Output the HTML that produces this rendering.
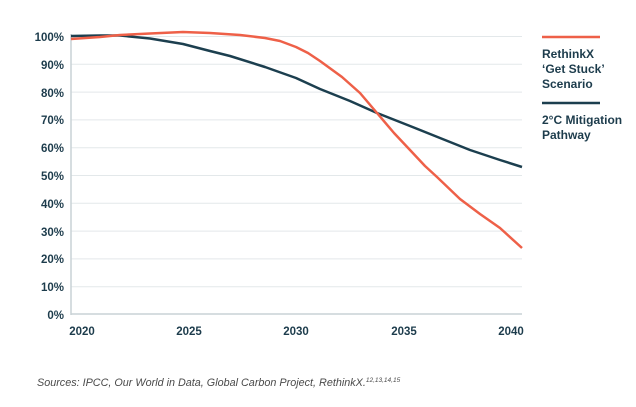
<!DOCTYPE html>
<html><head><style>
body{margin:0;background:#fff;width:636px;height:402px;overflow:hidden}
</style></head><body>
<svg width="636" height="402" xmlns="http://www.w3.org/2000/svg" font-family="Liberation Sans, sans-serif">
<g stroke="#e3e8ea" stroke-width="1">
<line x1="71" x2="522" y1="36.5" y2="36.5"/><line x1="71" x2="522" y1="64.3" y2="64.3"/>
<line x1="71" x2="522" y1="92.1" y2="92.1"/><line x1="71" x2="522" y1="119.9" y2="119.9"/>
<line x1="71" x2="522" y1="147.7" y2="147.7"/><line x1="71" x2="522" y1="175.5" y2="175.5"/>
<line x1="71" x2="522" y1="203.3" y2="203.3"/><line x1="71" x2="522" y1="231.1" y2="231.1"/>
<line x1="71" x2="522" y1="258.9" y2="258.9"/><line x1="71" x2="522" y1="286.7" y2="286.7"/>
</g>
<line x1="71" x2="522" y1="314" y2="314" stroke="#c9d2d6" stroke-width="1.5"/>
<line x1="71" x2="71" y1="34" y2="315" stroke="#c9d2d6" stroke-width="1.5"/>
<g fill="#1d3c4c" font-size="11.5" font-weight="bold" text-anchor="end">
<text x="64" y="41">100%</text><text x="64" y="69">90%</text><text x="64" y="97">80%</text>
<text x="64" y="124">70%</text><text x="64" y="152">60%</text><text x="64" y="180">50%</text>
<text x="64" y="208">40%</text><text x="64" y="236">30%</text><text x="64" y="263">20%</text>
<text x="64" y="291">10%</text><text x="64" y="319">0%</text>
</g>
<g fill="#1d3c4c" font-size="11.5" font-weight="bold" text-anchor="middle">
<text x="82" y="335">2020</text><text x="189" y="335">2025</text><text x="296" y="335">2030</text>
<text x="404" y="335">2035</text><text x="511" y="335">2040</text>
</g>
<polyline fill="none" stroke="#1c3f4f" stroke-width="2.5" stroke-linejoin="round" points="71,36 100,35.5 120,35.5 150,38.5 183,44 210,51 230,56 265,67 296,78 320,89 350,101 377,113 410,126 440,138 470,150 500,160 522,167"/>
<polyline fill="none" stroke="#ee6048" stroke-width="2.5" stroke-linejoin="round" points="71,39 100,37 120,35 150,33.5 183,32 210,33 240,35 265,38 280,41 296,47 308,53 320,61 342,77 360,93 377,113 394,133 410,150 425,166 437,177 460,199 480,214 500,228 522,248"/>
<line x1="542" x2="600" y1="37" y2="37" stroke="#ee6048" stroke-width="2.5"/>
<line x1="542" x2="600" y1="103" y2="103" stroke="#1c3f4f" stroke-width="2.5"/>
<g fill="#1d3c4c" font-size="12" font-weight="bold">
<text x="542" y="58">RethinkX</text><text x="542" y="73">‘Get Stuck’</text><text x="542" y="88">Scenario</text>
<text x="542" y="124">2°C Mitigation</text><text x="542" y="139">Pathway</text>
</g>
<text x="37" y="386" fill="#4a4a4a" font-size="10.8" font-style="italic">Sources: IPCC, Our World in Data, Global Carbon Project, RethinkX.<tspan font-size="6.5" dy="-4">12,13,14,15</tspan></text>
</svg>
</body></html>
